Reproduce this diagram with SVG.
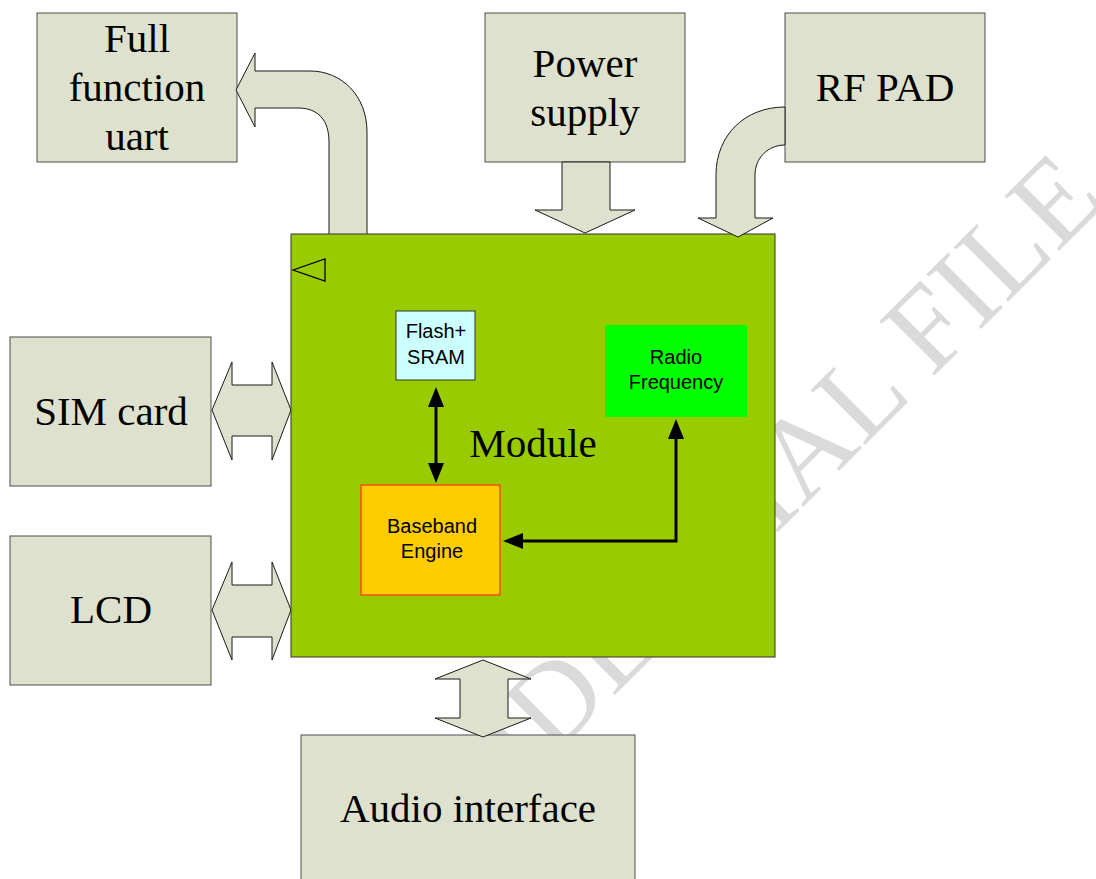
<svg xmlns="http://www.w3.org/2000/svg" width="1096" height="879" viewBox="0 0 1096 879">
<style>
.box{fill:#dee1cd;stroke:#4d4d4d;stroke-width:1}
.blk{fill:#dee1cd;stroke:#1a1a1a;stroke-width:1;stroke-linejoin:miter}
.big{font-family:"Liberation Serif","Times New Roman",serif;font-size:41px;fill:#000;text-anchor:middle}
.sm{font-family:"Liberation Sans",Arial,sans-serif;font-size:20px;fill:#000;text-anchor:middle}
.wm{font-family:"Liberation Serif","Times New Roman",serif;font-size:118px;fill:#dadada}
.con{fill:none;stroke:#000;stroke-width:3;stroke-linejoin:miter}
</style>
<defs>
<marker id="ah" viewBox="0 0 20 16" markerWidth="20" markerHeight="16" refX="0" refY="8" orient="auto-start-reverse" markerUnits="userSpaceOnUse">
<path d="M0,0 L20,8 L0,16 z" fill="#000"/>
</marker>
</defs>
<rect width="1096" height="879" fill="#fff"/>
<text class="wm" x="302" y="1008" transform="rotate(-45 302 1008)">CONFIDENTIAL FILE</text>

<g id="uart">
<rect class="box" x="37" y="13" width="200" height="149"/>
<text class="big" x="137" y="52">Full</text>
<text class="big" x="137" y="101">function</text>
<text class="big" x="137" y="150">uart</text>
</g>
<g id="power">
<rect class="box" x="485" y="13" width="200" height="149"/>
<text class="big" x="585" y="77">Power</text>
<text class="big" x="585" y="126">supply</text>
</g>
<g id="rfpad">
<rect class="box" x="785" y="13" width="200" height="149"/>
<text class="big" x="885" y="101">RF PAD</text>
</g>
<g id="sim">
<rect class="box" x="10" y="337" width="201" height="149"/>
<text class="big" x="111" y="425">SIM card</text>
</g>
<g id="lcd">
<rect class="box" x="10" y="536" width="201" height="149"/>
<text class="big" x="111" y="623">LCD</text>
</g>
<g id="audio">
<rect class="box" x="301" y="735" width="334" height="150"/>
<text class="big" x="468" y="822">Audio interface</text>
</g>

<g id="block-arrows">
<path class="blk" d="M329,236 L329,142 C329,120 318,108 298,108 L255,108 L255,127 L236,90 L255,53 L255,71 L310,71 C342,71 367,96 367,132 L367,236 Z"/>
<path class="blk" d="M562,162 L562,210 L535,210 L585,233 L635,210 L610,210 L610,162 Z"/>
<polygon class="blk" points="212,410 232,362 232,385 272,385 272,362 291,410 272,460 272,436 232,436 232,460"/>
<polygon class="blk" points="212,610 232,562 232,585 272,585 272,562 291,610 272,660 272,637 232,637 232,660"/>
<polygon class="blk" points="483,660 531,679 508,679 508,718 531,718 483,737 435,718 460,718 460,679 435,679"/>
</g>

<g id="module">
<rect x="291" y="234" width="484" height="423" fill="#99cc00" stroke="#333" stroke-width="1"/>
<polygon points="293,270 325,259 325,281" fill="none" stroke="#000" stroke-width="1.3"/>
<text class="big" x="533" y="457">Module</text>
</g>

<g id="rf-arrow">
<path class="blk" d="M785,107 C745,107 716,135 716,175 L716,218 L698,218 L738,237 L773,218 L755,218 L755,175 C755,158 768,145 785,145 Z"/>
</g>

<g id="flash">
<rect x="396" y="311" width="79" height="69" fill="#ccffff" stroke="#333" stroke-width="1"/>
<text class="sm" x="436" y="338">Flash+</text>
<text class="sm" x="436" y="364">SRAM</text>
</g>
<g id="radio">
<rect x="605" y="325" width="142" height="92" fill="#00ff00"/>
<text class="sm" x="676" y="364">Radio</text>
<text class="sm" x="676" y="389">Frequency</text>
</g>
<g id="baseband">
<rect x="361" y="485" width="139" height="110" fill="#ffcc00" stroke="#ff3300" stroke-width="1.2"/>
<text class="sm" x="432" y="533">Baseband</text>
<text class="sm" x="432" y="558">Engine</text>
</g>

<g id="connectors">
<path class="con" d="M436,407 L436,463" marker-start="url(#ah)" marker-end="url(#ah)"/>
<path class="con" d="M676,439 L676,541 L523,541" marker-start="url(#ah)" marker-end="url(#ah)"/>
</g>
</svg>
